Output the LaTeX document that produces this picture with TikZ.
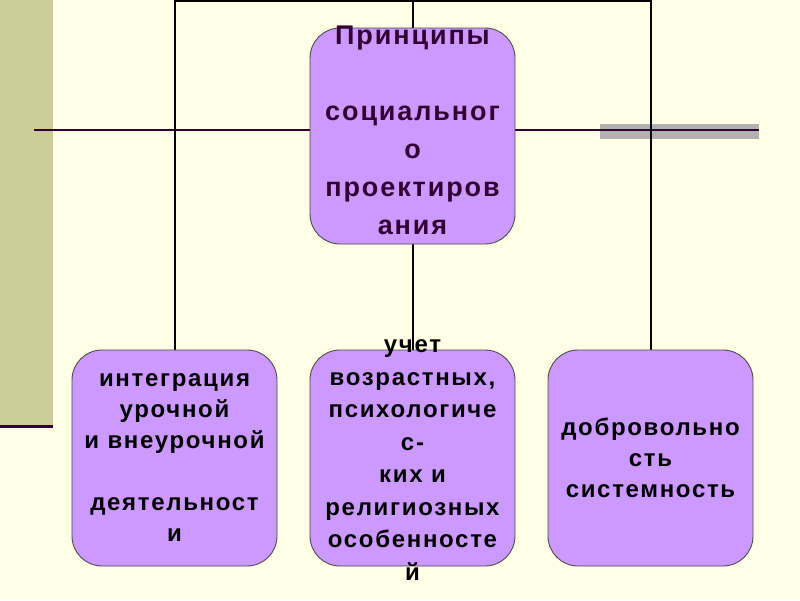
\documentclass[tikz,border=0pt]{standalone}
\usepackage{fontspec}
\setmainfont{Liberation Sans}
\newfontfamily\boxfont{Liberation Sans}[LetterSpace=7]
\usetikzlibrary{backgrounds}
\definecolor{slidebg}{HTML}{FFFFE5}
\definecolor{olive}{HTML}{CCCC99}
\definecolor{plum}{HTML}{330033}
\definecolor{boxviolet}{HTML}{CC99FF}
\tikzset{
  unit/.style={draw=black!70, line width=0.9pt, fill=boxviolet, rounded corners=30pt,
    minimum width=205pt, minimum height=216pt, inner sep=0pt},
  rootword/.style={align=center, text=plum, font=\boxfont\fontsize{27}{38}\selectfont\bfseries},
  word/.style={align=center, font=\boxfont\fontsize{24}{31}\selectfont\bfseries},
  wire/.style={line width=2pt, black}
}
\begin{document}
\begin{tikzpicture}[x=1pt, y=-1pt]
  \useasboundingbox (0,0) rectangle (800,600);

  % boxes
  \node[unit] (root) at (412.5,136) {};
  \node[unit] (left) at (174.5,458) {};
  \node[unit] (mid) at (412.5,458) {};
  \node[unit] (right) at (650.5,458) {};
  \coordinate (top) at (412.5,1);

  % slide background and connectors behind the boxes
  \begin{pgfonlayer}{background}
    \fill[slidebg] (0,0) rectangle (800,600);
    \fill[olive] (0,0) rectangle (53,425);
    \fill[plum] (0,425) rectangle (53,428);
    \fill[black!30] (600,124) rectangle (759,139);
    \draw[plum, line width=1.2pt] (34,130) -- (759,130);
    \draw[wire] (left.north) |- (top) -| (right.north);
    \draw[wire] (top) -- (mid.north);
  \end{pgfonlayer}

  % texts
  \node[rootword] (rootT) at ([yshift=6pt]root.center) {Принципы\\ \mbox{}\\социальног\\о\\проектиров\\ания};
  \node[word] (leftT) at (left.center) {интеграция\\урочной\\и внеурочной\\ \mbox{}\\деятельност\\и};
  \node[word, font=\boxfont\fontsize{24}{32.5}\selectfont\bfseries] (midT) at ([yshift=-2pt]mid.center) {учет\\возрастных,\\психологиче\\с-\\ких и\\религиозных\\особенносте\\й};
  \node[word] (rightT) at (right.center) {добровольно\\сть\\системность};
\end{tikzpicture}
\end{document}
